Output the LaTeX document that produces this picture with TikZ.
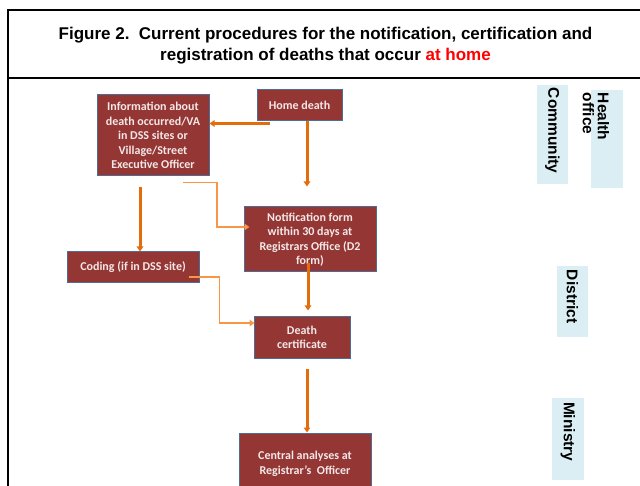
\documentclass[tikz,border=0pt]{standalone}
\usepackage{fontspec}
\setmainfont{Carlito}
\newfontfamily\arialfont{Liberation Sans}
\usetikzlibrary{arrows.meta}

\definecolor{boxred}{HTML}{943634}
\definecolor{boxline}{HTML}{4F6D94}
\definecolor{arroworange}{HTML}{E46C0A}
\definecolor{thinorange}{HTML}{F79646}
\definecolor{lanefill}{HTML}{DBEEF4}
\definecolor{boxtext}{HTML}{F4E8E8}

\begin{document}
\begin{tikzpicture}[
    % GLOBAL CFG
    x=1pt, y=-1pt,
    >={Triangle[length=5pt,width=6.5pt]},
    % Styles
    procbox/.style={% For the procedure boxes
        rectangle,
        draw=boxline,
        line width=1pt,
        fill=boxred,
        text=boxtext,
        font=\bfseries\fontsize{12}{14.5}\selectfont,
        align=center,
        inner sep=2pt,
        },
    lanebox/.style={% For the level labels on the right
        rectangle,
        fill=lanefill,
        inner sep=0pt,
        },
    lanetext/.style={% Rotated level names
        font=\arialfont\bfseries\fontsize{15.5}{15}\selectfont,
        rotate=-90,
        anchor=west,
        align=left,
        inner sep=0pt,
        },
    ArrowThick/.style={% Main arrows
        ->,
        draw=arroworange,
        line width=3pt,
        },
    ArrowThin/.style={% Thin elbow arrows
        ->,
        draw=thinorange,
        line width=1.3pt,
        },
    ]

    \useasboundingbox (0,0) rectangle (640,486);
    \clip (0,0) rectangle (640,486);

    % Frame and title
    \draw [line width=2pt] (8,500) -- (8,10) -- (660,10);
    \draw [line width=1.5pt] (8,78) -- (660,78);
    \node [font=\arialfont\bfseries\fontsize{17}{21}\selectfont, align=center] (title) at (325.5,45.5)
        {Figure 2.\ \ Current procedures for the notification, certification and\\registration of deaths that occur \textcolor{red}{at home}};

    % Draw the procedure boxes
    \node [procbox, minimum width=112pt, minimum height=81pt] (info) at (153,135.5)
        {Information about\\death occurred/VA\\in DSS sites or\\Village/Street\\Executive Officer};
    \node [procbox, minimum width=85pt, minimum height=31pt] (home) at (299.5,105.5) {Home death};
    \node [procbox, minimum width=132pt, minimum height=65pt] (notif) at (310,239.5)
        {Notification form\\within 30 days at\\Registrars Office (D2\\form)};
    \node [procbox, minimum width=132pt, minimum height=31pt] (coding) at (133,267.5) {Coding (if in DSS site)};
    \node [procbox, minimum width=96pt, minimum height=41pt] (cert) at (302,337.5) {Death\\certificate};
    \node [procbox, minimum width=132pt, minimum height=62pt] (central) at (305,464)
        {Central analyses at\\Registrar's\ \ Officer};

    % Draw the level labels
    \node [lanebox, minimum width=31pt, minimum height=99pt] (comm) at (552.5,134.5) {};
    \node [lanetext] at ([yshift=-3pt]comm.north) {Community};
    \node [lanebox, minimum width=32pt, minimum height=98pt] (health) at (607,139) {};
    \node [lanetext] at ([xshift=-11pt,yshift=-3pt]health.north) {Health\\office};
    \node [lanebox, minimum width=31pt, minimum height=71pt] (dist) at (572.5,301.5) {};
    \node [lanetext] at ([yshift=-4pt]dist.north) {District};
    \node [lanebox, minimum width=32pt, minimum height=82pt] (mini) at (568,439) {};
    \node [lanetext] at ([yshift=-4pt]mini.north) {Ministry};

    % Connect the boxes
    \draw [ArrowThick] ([xshift=-29.5pt,yshift=-2pt]home.south) coordinate (hd) -- (hd -| info.east);
    \draw [ArrowThick] ([xshift=7.5pt]home.south) -- ([xshift=-3pt,yshift=20pt]notif.north);
    \draw [ArrowThin] ([xshift=30pt,yshift=-6pt]info.south) -- ++(34,0) |- ([xshift=6pt,yshift=12.5pt]notif.west);
    \draw [ArrowThick] ([xshift=-13pt,yshift=-11pt]info.south) -- ([xshift=7pt]coding.north);
    \draw [ArrowThin] ([xshift=-11pt,yshift=-9.5pt]coding.east) -- ++(31,0) |- ([xshift=1pt,yshift=14.5pt]cert.west);
    \draw [ArrowThick] ([xshift=-2pt,yshift=9pt]notif.south) -- ([xshift=6pt,yshift=6pt]cert.north);
    \draw [ArrowThick] ([xshift=5pt,yshift=-10pt]cert.south) -- ([xshift=2pt]central.north);

\end{tikzpicture}
\end{document}
